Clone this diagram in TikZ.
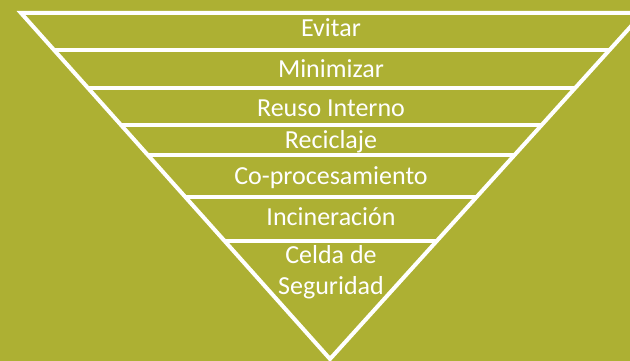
\documentclass[tikz,border=0pt]{standalone}
\usepackage{fontspec}
\setmainfont{Carlito}
\usetikzlibrary{calc}
\definecolor{olive}{RGB}{173,176,51}
\begin{document}
\begin{tikzpicture}[x=1pt,y=-1pt,
  edge/.style={draw=white,line width=4pt},
  lbl/.style={text=white,font=\fontsize{26}{31}\selectfont,anchor=base,inner sep=0pt}]
\useasboundingbox (0,0) rectangle (630,361);
\fill[olive] (0,0) rectangle (630,361);
\clip (0,0) rectangle (630,361);
\coordinate (tl) at (21,13);
\coordinate (tr) at (643,13);
\coordinate (ap) at (330,359);
\draw[edge,line join=miter] (tl) -- (tr) -- (ap) -- cycle;
\foreach \y/\n in {50/a,88/b,125/c,155/d,197/e,241/f}{
  \pgfmathsetmacro{\t}{(\y-13)/346}
  \draw[edge] ($(tl)!\t!(ap)$) coordinate (l\n) -- ($(tr)!\t!(ap)$) coordinate (r\n);
}
\node[lbl] (n1) at (331,37) {Evitar};
\node[lbl] (n2) at (331,78) {Minimizar};
\node[lbl] (n3) at (331,117) {Reuso Interno};
\node[lbl] (n4) at (331,149) {Reciclaje};
\node[lbl] (n5) at (331,184) {Co-procesamiento};
\node[lbl] (n6) at (331,225) {Incineración};
\node[lbl] (n7) at (331,263) {Celda de};
\node[lbl] (n8) at (331,294) {Seguridad};
\end{tikzpicture}
\end{document}
